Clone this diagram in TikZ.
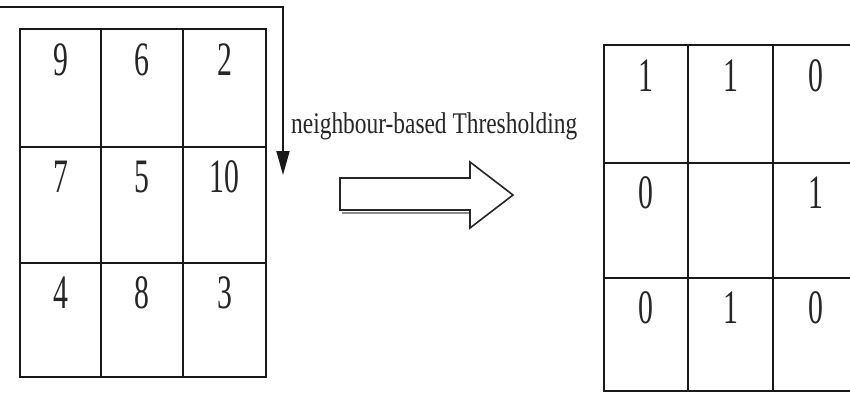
\documentclass[tikz,border=0pt]{standalone}
\usepackage{fontspec}
\setmainfont{Liberation Serif}
\usetikzlibrary{arrows.meta}
% horizontally condensed glyphs, as in the printed figure
\newcommand\condensed[2]{\scalebox{#1}[1]{#2}}
\begin{document}
\begin{tikzpicture}[x=1pt,y=-1pt,
  gridline/.style={line width=1.8pt, line cap=rect, black!90},
  digit/.style={font=\fontsize{48}{48}\selectfont, anchor=base, inner sep=0pt, text=black!85},
  caption/.style={font=\fontsize{30}{30}\selectfont, anchor=base west, inner sep=0pt, text=black!85},
  flow/.style={line width=1.8pt, black!90, -{Triangle[length=24pt,width=13pt]}},
  blockarrow/.style={line width=1.6pt, black!85, line join=miter, fill=white}]

\useasboundingbox (0,0) rectangle (850,394);
\clip (0,0) rectangle (850,394);
\fill[white] (0,0) rectangle (850,394);

% input matrix
\draw[gridline] (20,29) rectangle (266,377);
\draw[gridline] (101,29) -- (101,377) (183,29) -- (183,377)
                (20,147) -- (266,147) (20,263) -- (266,263);
\node[digit] (a11) at (60.5,75)  {\condensed{0.62}{9}};
\node[digit] (a12) at (142,75)   {\condensed{0.62}{6}};
\node[digit] (a13) at (224.5,75) {\condensed{0.62}{2}};
\node[digit] (a21) at (60.5,192) {\condensed{0.62}{7}};
\node[digit] (a22) at (142,192)  {\condensed{0.62}{5}};
\node[digit] (a23) at (224.5,192){\condensed{0.62}{10}};
\node[digit] (a31) at (60.5,308) {\condensed{0.62}{4}};
\node[digit] (a32) at (142,308)  {\condensed{0.62}{8}};
\node[digit] (a33) at (224.5,308){\condensed{0.62}{3}};

% output matrix
\draw[gridline] (604,45) rectangle (858,391);
\draw[gridline] (688,45) -- (688,391) (773,45) -- (773,391)
                (604,163) -- (858,163) (604,278) -- (858,278);
\node[digit] (b11) at (646,91)   {\condensed{0.62}{1}};
\node[digit] (b12) at (730.5,91) {\condensed{0.62}{1}};
\node[digit] (b13) at (815.5,91) {\condensed{0.62}{0}};
\node[digit] (b21) at (646,208)  {\condensed{0.62}{0}};
\node[digit] (b23) at (815.5,208){\condensed{0.62}{1}};
\node[digit] (b31) at (646,323)  {\condensed{0.62}{0}};
\node[digit] (b32) at (730.5,323){\condensed{0.62}{1}};
\node[digit] (b33) at (815.5,323){\condensed{0.62}{0}};

% bent flow line over the input
\coordinate (flowstart) at (0,7);
\coordinate (flowend) at (283,175);
\draw[flow] (flowstart) -| (flowend);

% operation label
\node[caption] (op) at (291,133) {\condensed{0.78}{neighbour-based Thresholding}};

% hollow block arrow
\draw[black!45, line width=2pt] (342,212.5) -- (470,212.5);
\draw[blockarrow] (340,178) -- (470,178) -- (470,162) -- (513,195)
                  -- (470,228) -- (470,210) -- (340,210) -- cycle;
\end{tikzpicture}
\end{document}
